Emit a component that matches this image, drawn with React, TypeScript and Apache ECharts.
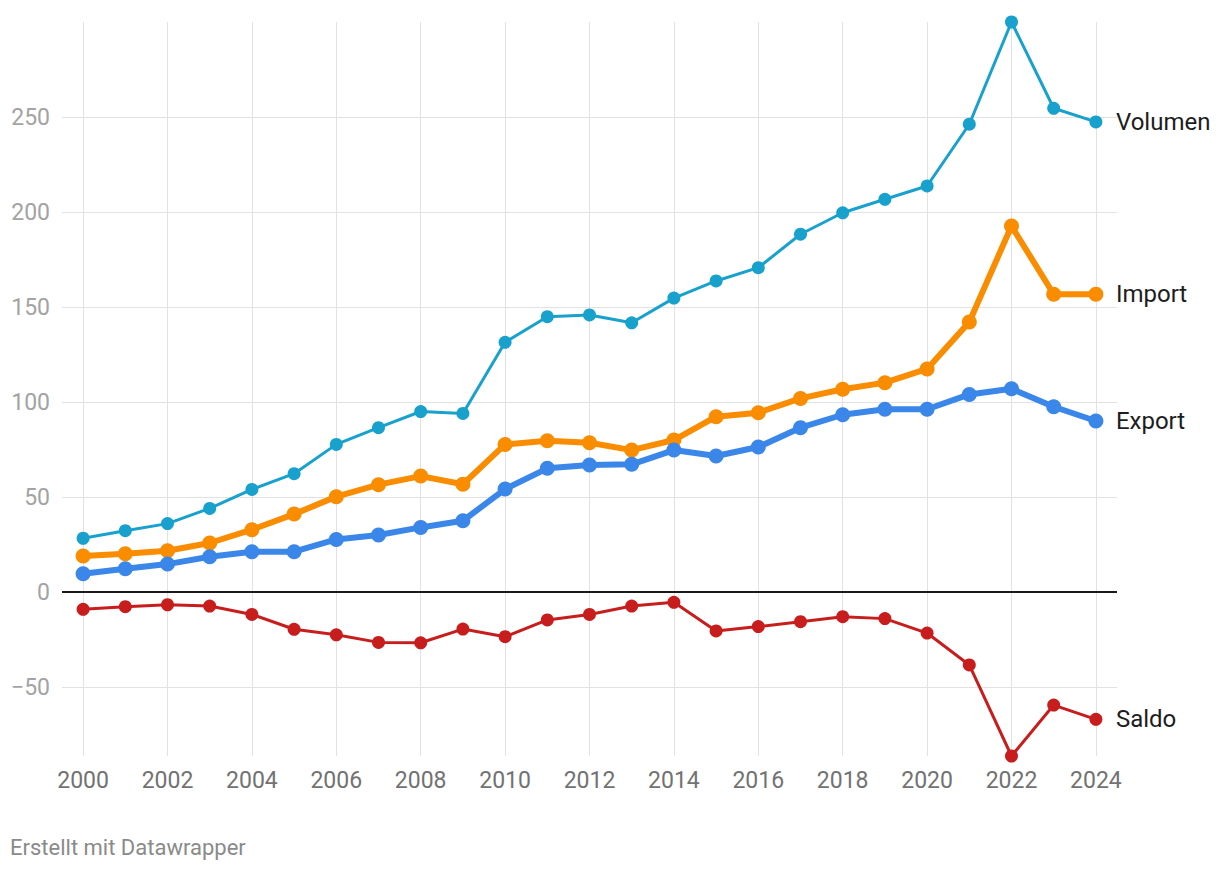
import React, { useEffect, useRef } from "react";
import * as echarts from "echarts";

const years = [2000, 2001, 2002, 2003, 2004, 2005, 2006, 2007, 2008, 2009, 2010, 2011, 2012, 2013, 2014, 2015, 2016, 2017, 2018, 2019, 2020, 2021, 2022, 2023, 2024];
const volumen = [28.3, 32.3, 36.0, 44.0, 54.0, 62.3, 77.7, 86.5, 95.0, 94.0, 131.4, 144.9, 145.8, 141.7, 154.7, 163.7, 170.7, 188.3, 199.6, 206.7, 213.7, 246.2, 300.0, 254.6, 247.4];
const importe = [18.9, 20.2, 21.7, 25.8, 32.8, 41.0, 50.2, 56.5, 61.0, 56.7, 77.7, 79.6, 78.6, 74.7, 80.0, 92.3, 94.4, 101.9, 106.7, 110.2, 117.4, 142.1, 192.6, 156.7, 156.7];
const exporte = [9.6, 12.3, 14.7, 18.6, 21.2, 21.2, 27.7, 30.0, 34.0, 37.5, 54.2, 65.1, 66.8, 67.2, 74.7, 71.6, 76.3, 86.5, 93.3, 96.2, 96.2, 104.0, 107.0, 97.5, 90.0];
const saldo = [-9.1, -7.7, -6.7, -7.4, -11.8, -19.6, -22.5, -26.5, -26.7, -19.5, -23.5, -14.7, -11.8, -7.4, -5.4, -20.5, -18.2, -15.6, -13.0, -14.0, -21.6, -38.4, -86.3, -59.5, -67.0];
const xTicks = [2000, 2002, 2004, 2006, 2008, 2010, 2012, 2014, 2016, 2018, 2020, 2022, 2024];
const yTicks = [-50, 0, 50, 100, 150, 200, 250];
const seriesNames = ["Volumen", "Import", "Export", "Saldo"];
const footer = "Erstellt mit Datawrapper";

const pairs = (vals: number[]) => years.map((y, i) => [y, vals[i]]);

export default function App() {
  const ref = useRef<HTMLDivElement>(null);
  useEffect(() => {
    if (!ref.current) return;
    const chart = echarts.init(ref.current, null, { renderer: "svg" });
    const mkSeries = (name: string, vals: number[], color: string, width: number, size: number, extra: any = {}) => ({
      name,
      type: "line",
      data: pairs(vals),
      clip: false,
      symbol: "circle",
      symbolSize: size,
      showSymbol: true,
      lineStyle: { color, width },
      itemStyle: { color },
      emphasis: { disabled: true },
      endLabel: {
        show: true,
        formatter: "{a}",
        color: "#1d1d1d",
        fontSize: 24,
        fontFamily: "Roboto",
        distance: 20,
      },
      ...extra,
    });
    chart.setOption({
      animation: false,
      textStyle: { fontFamily: "Roboto" },
      grid: { left: 62, right: 103, top: 22, bottom: 116, containLabel: false },
      xAxis: {
        type: "value",
        min: 1999.5,
        max: 2024.5,
        axisLine: { show: false },
        axisTick: { show: false, customValues: xTicks },
        axisLabel: {
          customValues: xTicks,
          formatter: (v: number) => String(v),
          color: "#727272",
          fontSize: 23,
          margin: 13,
        },
        splitLine: { show: true, lineStyle: { color: "#e2e2e2", width: 1 } },
      },
      yAxis: {
        type: "value",
        min: -86.3,
        max: 300,
        axisLine: { show: false },
        axisTick: { show: false, customValues: yTicks },
        axisLabel: {
          customValues: yTicks,
          formatter: (v: number) => String(v).replace("-", "\u2212"),
          color: "#a3a3a3",
          fontSize: 23,
          margin: 12,
        },
        splitLine: { show: true, lineStyle: { color: "#e2e2e2", width: 1 } },
      },
      series: [
        mkSeries(seriesNames[3], saldo, "#c71e1d", 3, 13, {
          markLine: {
            silent: true,
            symbol: "none",
            label: { show: false },
            lineStyle: { color: "#1a1a1a", width: 2, type: "solid" },
            data: [{ yAxis: 0 }],
          },
        }),
        mkSeries(seriesNames[0], volumen, "#18a1cd", 3, 13),
        mkSeries(seriesNames[1], importe, "#fa8c00", 6, 15),
        mkSeries(seriesNames[2], exporte, "#3a87e9", 6, 15),
      ],
      graphic: [
        {
          type: "text",
          left: 10,
          top: 836,
          style: { text: footer, fill: "#8a8a8a", fontSize: 22, fontFamily: "Roboto" },
        },
      ],
    });
    return () => chart.dispose();
  }, []);
  return <div ref={ref} style={{ position: "fixed", left: 0, top: 0, width: 1220, height: 872, background: "#fff" }} />;
}
